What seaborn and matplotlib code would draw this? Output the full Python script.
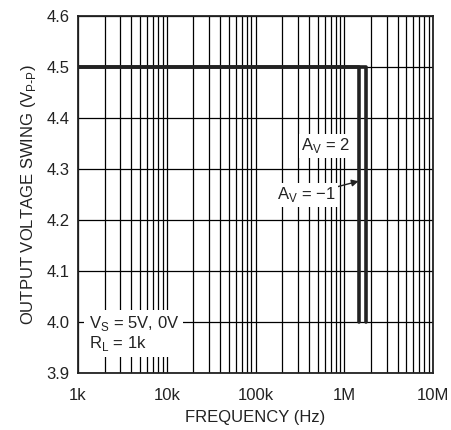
import numpy as np
import pandas as pd
import matplotlib
matplotlib.use('Agg')
import matplotlib.pyplot as plt
import seaborn as sns

# Data
freq_av2 = [1e3, 1.75e6, 1.75e6]
swing_av2 = [4.5, 4.5, 4.0]
freq_avm1 = [1e3, 1.45e6, 1.45e6]
swing_avm1 = [4.5, 4.5, 4.0]
x_ticks = [1e3, 1e4, 1e5, 1e6, 1e7]
x_labels = ['1k', '10k', '100k', '1M', '10M']
y_ticks = [3.9, 4.0, 4.1, 4.2, 4.3, 4.4, 4.5, 4.6]

df = pd.concat([
    pd.DataFrame({'freq': freq_av2, 'swing': swing_av2, 'gain': 'AV=2'}),
    pd.DataFrame({'freq': freq_avm1, 'swing': swing_avm1, 'gain': 'AV=-1'}),
])

sns.set_style('white')
plt.rcParams['font.family'] = ['Liberation Sans', 'DejaVu Sans']
fs = 12

fig = plt.figure(figsize=(4.52, 4.30), dpi=100)
ax = fig.add_axes([0.1726, 0.1326, 0.958 - 0.1726, 0.963 - 0.1326])

sns.lineplot(data=df, x='freq', y='swing', hue='gain', palette=['#222222', '#222222'],
             sort=False, estimator=None, linewidth=2.6, legend=False, ax=ax, zorder=4)

ax.set_xscale('log')
ax.set_xlim(1e3, 1e7)
ax.set_ylim(3.9, 4.6)
ax.set_xticks(x_ticks)
ax.set_xticklabels(x_labels)
ax.set_yticks(y_ticks)
ax.set_yticklabels([f'{v:.1f}' for v in y_ticks])
ax.xaxis.set_minor_locator(matplotlib.ticker.LogLocator(base=10, subs=np.arange(2, 10)))
ax.xaxis.set_minor_formatter(matplotlib.ticker.NullFormatter())

ax.grid(True, which='both', axis='x', color='black', linewidth=0.9)
ax.grid(True, which='major', axis='y', color='black', linewidth=0.9)
ax.tick_params(which='both', length=0, labelsize=fs, colors='#222222', pad=6)
ax.tick_params(axis='x', pad=11)
for s in ax.spines.values():
    s.set_color('#222222')
    s.set_linewidth(1.3)

ax.set_xlabel('FREQUENCY (Hz)', fontsize=fs, color='#222222', labelpad=5)
ax.set_ylabel('OUTPUT VOLTAGE SWING (V$_{\\mathregular{P\\text{-}P}}$)', fontsize=fs, color='#222222', labelpad=6)

ax.text(0.03, 0.165, 'V$_{\\mathregular{S}}$ = 5V, 0V\nR$_{\\mathregular{L}}$ = 1k', transform=ax.transAxes,
        fontsize=fs, color='#222222', va='top', ha='left', linespacing=1.05, zorder=5,
        bbox=dict(boxstyle='square,pad=0.25', fc='white', ec='none'))
ax.text(6.2e5, 4.345, 'A$_{\\mathregular{V}}$ = 2', fontsize=fs, color='#222222', ha='center', va='center',
        zorder=5, bbox=dict(boxstyle='square,pad=0.15', fc='white', ec='none'))
ax.annotate('A$_{\\mathregular{V}}$ = −1', xy=(1.45e6, 4.276), xytext=(3.7e5, 4.249), fontsize=fs,
            color='#222222', ha='center', va='center', zorder=5,
            bbox=dict(boxstyle='square,pad=0.15', fc='white', ec='none'),
            arrowprops=dict(arrowstyle='-|>', color='#222222', lw=1.0, mutation_scale=10,
                            shrinkA=0, shrinkB=0))

fig.savefig('out.png', dpi=100, facecolor='white')
